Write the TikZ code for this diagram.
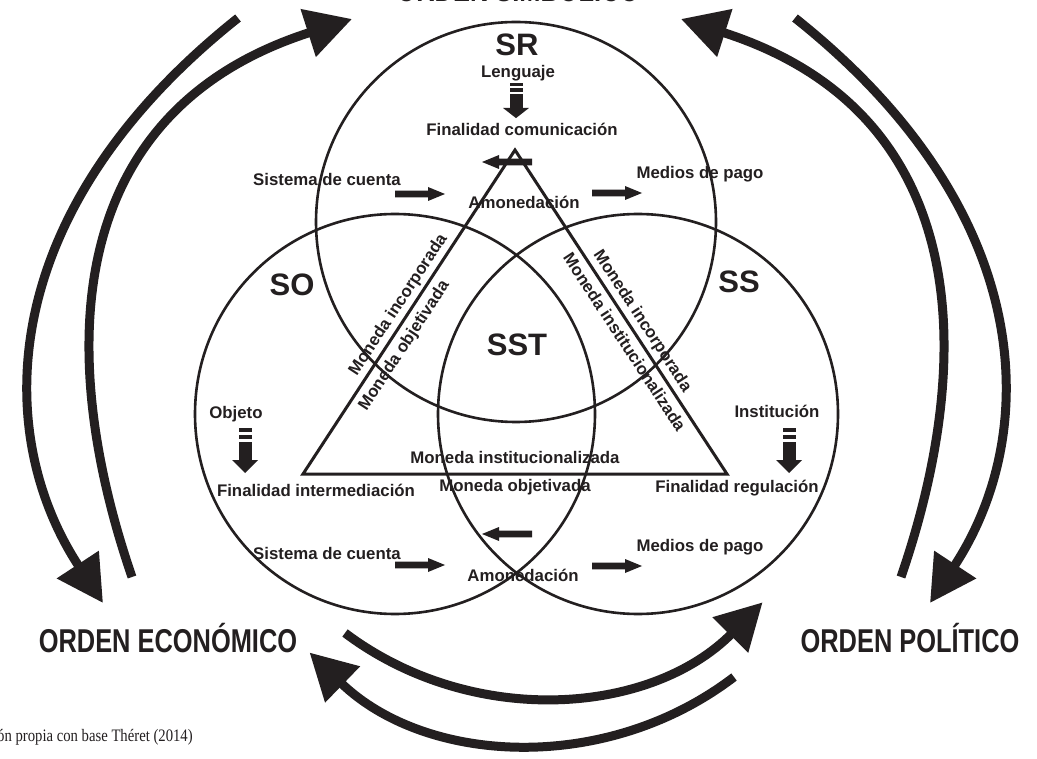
\documentclass[tikz,border=0pt]{standalone}
\usepackage{fontspec}
\setmainfont{Liberation Sans}
\newfontfamily\ordenfont[FakeStretch=0.77]{Liberation Sans}
\newfontfamily\notafont[FakeStretch=0.84]{Liberation Serif}
\usetikzlibrary{arrows.meta}
\definecolor{tinta}{RGB}{35,31,32}

\begin{document}
\begin{tikzpicture}[x=1pt, y=-1pt, >={Triangle[length=46pt,width=48pt]},
        every node/.style={text=tinta, inner sep=0pt},
        esfera/.style={draw=tinta, line width=2.6pt},
        lado/.style={draw=tinta, line width=3pt, line join=miter},
        rotulo/.style={font=\bfseries\fontsize{16.8}{18}\selectfont, text height=12pt, text depth=0pt},
        sigla/.style={font=\bfseries\fontsize{31}{34}\selectfont, text height=22pt, text depth=0pt},
        orden/.style={font=\ordenfont\bfseries\fontsize{33}{36}\selectfont, anchor=base},
        ciclo/.style={draw=tinta, line width=9pt, ->},
        baja/.pic={
            \fill[tinta] (-6.5,0) rectangle (6.5,4);
            \fill[tinta] (-6.5,7) rectangle (6.5,11);
            \fill[tinta] (-6.5,14) rectangle (6.5,32);
            \fill[tinta] (-13,32) -- (13,32) -- (0,45) -- cycle;},
        paso/.pic={
            \fill[tinta] (0,-3.4) -- (33,-3.4) -- (33,-7) -- (50,0) -- (33,7) -- (33,3.4) -- (0,3.4) -- cycle;}]

        \useasboundingbox (0,0) rectangle (1037,759);
        \clip (0,0) rectangle (1037,759);
        \fill[white] (0,0) rectangle (1037,759);

        % esferas
        \coordinate (cSR) at (516,222);
        \coordinate (cSO) at (395,414);
        \coordinate (cSS) at (638,414);
        \draw[esfera] (cSR) circle[radius=200];
        \draw[esfera] (cSO) circle[radius=200];
        \draw[esfera] (cSS) circle[radius=200];

        % triangulo
        \coordinate (triT) at (515,150);
        \coordinate (triL) at (303,474);
        \coordinate (triR) at (727,474);
        \draw[lado] (triL) -- (triT) -- (triR) -- cycle;

        \path (triL) -- (triT)
            node[rotulo, sloped, above, inner sep=8pt, pos=0.5] (incIzq) {Moneda incorporada}
            node[rotulo, sloped, below, inner sep=7pt, pos=0.42] (objIzq) {Moneda objetivada};
        \path (triT) -- (triR)
            node[rotulo, sloped, above, inner sep=8pt, pos=0.55] (incDer) {Moneda incorporada}
            node[rotulo, sloped, below, inner sep=7pt, pos=0.57] (instDer) {Moneda institucionalizada};
        \path (triL) -- (triR)
            node[rotulo, above, inner sep=10pt, pos=0.5] (instBase) {Moneda institucionalizada}
            node[rotulo, below, inner sep=5pt, pos=0.5] (objBase) {Moneda objetivada};

        % SR
        \node[sigla]  (sr)       at (517,45)  {SR};
        \node[rotulo] (lenguaje) at (518,72)  {Lenguaje};
        \pic[yscale=0.78] at (516,83) {baja};
        \node[rotulo] (finCom)   at (522,130) {Finalidad comunicación};
        \node[rotulo] (cuentaR)  at (327,180) {Sistema de cuenta};
        \node[rotulo] (amonR)    at (524,203) {Amonedación};
        \node[rotulo] (pagoR)    at (700,173) {Medios de pago};
        \pic at (395,194) {paso};
        \pic at (592,193) {paso};
        \pic[rotate=180] at (532,162) {paso};

        % SO
        \node[sigla]  (so)       at (292,285) {SO};
        \node[rotulo] (objeto)   at (236,413) {Objeto};
        \pic at (245,428) {baja};
        \node[rotulo] (finInt)   at (316,490) {Finalidad intermediación};
        \node[rotulo] (cuentaO)  at (327,553) {Sistema de cuenta};
        \node[rotulo] (amonO)    at (523,575) {Amonedación};
        \node[rotulo] (pagoO)    at (700,545) {Medios de pago};
        \pic at (395,565) {paso};
        \pic at (592,566) {paso};
        \pic[rotate=180] at (532,534) {paso};

        % SS
        \node[sigla]  (ss)       at (739,282) {SS};
        \node[rotulo] (inst)     at (777,412) {Institución};
        \pic at (789,428) {baja};
        \node[rotulo] (finReg)   at (737,487) {Finalidad regulación};

        \node[sigla]  (sst)      at (517,345) {SST};

        % ordenes
        \node[orden] (simb) at (518,2)   {ORDEN SIMBÓLICO};
        \node[orden] (eco)  at (168,652) {ORDEN ECONÓMICO};
        \node[orden] (pol)  at (910,652) {ORDEN POLÍTICO};

        \coordinate (simbA) at (238,18);   \coordinate (ecoA) at (103,603);
        \coordinate (ecoB)  at (132,577);  \coordinate (simbB) at (352,19);
        \coordinate (simbC) at (795,18);   \coordinate (polC) at (930,603);
        \coordinate (polD)  at (901,577);  \coordinate (simbD) at (681,19);
        \coordinate (ecoE)  at (345,633);
        \coordinate (polF)  at (734,677);

        \draw[ciclo] (simbA) .. controls (-6,212) and (-8,434) .. (ecoA);
        \draw[ciclo] (ecoB) .. controls (56,356) and (61,112) .. (simbB);
        \draw[ciclo] (simbC) .. controls (1039,212) and (1041,434) .. (polC);
        \draw[ciclo] (polD) .. controls (977,356) and (972,112) .. (simbD);
        \draw[ciclo] (ecoE) arc[start angle=126.9, end angle=44.7, radius=318.5];
        \draw[ciclo] (polF) arc[start angle=52.6, end angle=134, radius=326];

        \node[font=\notafont\fontsize{17.5}{19}\selectfont, anchor=base west] (fuente) at (-3,741) {ón propia con base Théret (2014)};

\end{tikzpicture}
\end{document}
